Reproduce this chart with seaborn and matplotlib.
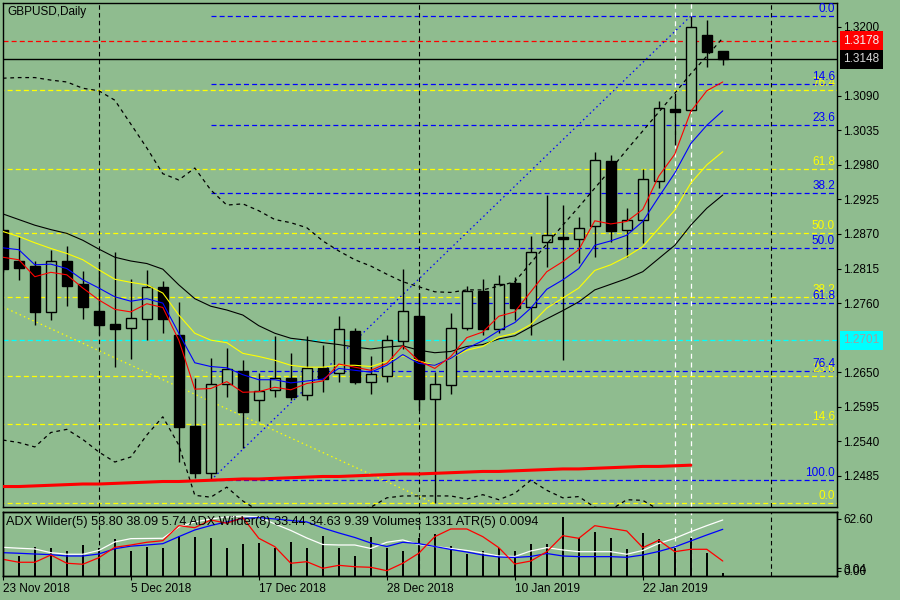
import numpy as np
import pandas as pd
import matplotlib
matplotlib.use('Agg')
import matplotlib.pyplot as plt
import matplotlib.transforms as mtransforms
import seaborn as sns

# --- 1. Values (GBPUSD daily, 23 Nov 2018 - 29 Jan 2019) ---
bars = list(range(46))

opens = [1.2877, 1.2827, 1.2819, 1.2746, 1.2827, 1.2790, 1.2747, 1.2727, 1.2720, 1.2734,
         1.2785, 1.2709, 1.2564, 1.2489, 1.2632, 1.2652, 1.2605, 1.2622, 1.2640, 1.2613,
         1.2656, 1.2648, 1.2716, 1.2634, 1.2644, 1.2700, 1.2739, 1.2608, 1.2630, 1.2721,
         1.2779, 1.2718, 1.2792, 1.2753, 1.2858, 1.2866, 1.2862, 1.2882, 1.2986, 1.2877,
         1.2893, 1.2955, 1.3069, 1.3067, 1.3187, 1.3161]
highs = [1.2878, 1.2866, 1.2827, 1.2845, 1.2851, 1.2811, 1.2825, 1.2841, 1.2798, 1.2813,
         1.2795, 1.2761, 1.2641, 1.2672, 1.2689, 1.2670, 1.2648, 1.2708, 1.2680, 1.2708,
         1.2693, 1.2739, 1.2720, 1.2675, 1.2709, 1.2815, 1.2776, 1.2651, 1.2745, 1.2787,
         1.2798, 1.2805, 1.2802, 1.2867, 1.2932, 1.2916, 1.2897, 1.3000, 1.2995, 1.2911,
         1.2973, 1.3081, 1.3094, 1.3217, 1.3211, 1.3162]
lows = [1.2810, 1.2796, 1.2725, 1.2733, 1.2755, 1.2735, 1.2709, 1.2659, 1.2671, 1.2701,
        1.2712, 1.2507, 1.2482, 1.2478, 1.2611, 1.2529, 1.2573, 1.2611, 1.2606, 1.2606,
        1.2619, 1.2635, 1.2632, 1.2615, 1.2635, 1.2687, 1.2590, 1.2441, 1.2615, 1.2717,
        1.2709, 1.2712, 1.2733, 1.2710, 1.2818, 1.2669, 1.2824, 1.2833, 1.2857, 1.2833,
        1.2856, 1.2943, 1.3011, 1.3066, 1.3136, 1.3139]
closes = [1.2814, 1.2816, 1.2746, 1.2827, 1.2787, 1.2754, 1.2725, 1.2718, 1.2736, 1.2785,
          1.2734, 1.2563, 1.2490, 1.2631, 1.2655, 1.2586, 1.2620, 1.2640, 1.2611, 1.2657,
          1.2639, 1.2718, 1.2635, 1.2647, 1.2701, 1.2747, 1.2608, 1.2632, 1.2721, 1.2779,
          1.2719, 1.2790, 1.2752, 1.2841, 1.2868, 1.2862, 1.2880, 1.2987, 1.2875, 1.2893,
          1.2957, 1.3070, 1.3065, 1.3199, 1.3160, 1.3148]

red_ma = [1.2833, 1.2829, 1.2802, 1.2809, 1.2805, 1.2784, 1.2765, 1.2750, 1.2746, 1.2759,
          1.2753, 1.2701, 1.2623, 1.2624, 1.2635, 1.2618, 1.2619, 1.2626, 1.2622, 1.2632,
          1.2636, 1.2663, 1.2658, 1.2653, 1.2664, 1.2692, 1.2668, 1.2656, 1.2675, 1.2705,
          1.2714, 1.2739, 1.2746, 1.2778, 1.2810, 1.2826, 1.2845, 1.2891, 1.2886, 1.2890,
          1.2909, 1.2962, 1.2997, 1.3065, 1.3098, 1.3112]
blue_ma = [1.2848, 1.2845, 1.2821, 1.2822, 1.2815, 1.2797, 1.2784, 1.2770, 1.2763, 1.2767,
           1.2760, 1.2712, 1.2665, 1.2659, 1.2657, 1.2646, 1.2638, 1.2638, 1.2633, 1.2636,
           1.2639, 1.2656, 1.2653, 1.2650, 1.2661, 1.2678, 1.2664, 1.2661, 1.2672, 1.2688,
           1.2700, 1.2716, 1.2729, 1.2752, 1.2782, 1.2797, 1.2815, 1.2852, 1.2859, 1.2868,
           1.2890, 1.2929, 1.2967, 1.3014, 1.3043, 1.3066]
yellow_ma = [1.2874, 1.2866, 1.2856, 1.2847, 1.2839, 1.2829, 1.2813, 1.2798, 1.2793, 1.2789,
             1.2776, 1.2741, 1.2712, 1.2701, 1.2697, 1.2680, 1.2675, 1.2669, 1.2661, 1.2658,
             1.2658, 1.2661, 1.2661, 1.2659, 1.2667, 1.2676, 1.2668, 1.2661, 1.2672, 1.2685,
             1.2691, 1.2706, 1.2712, 1.2726, 1.2752, 1.2768, 1.2784, 1.2812, 1.2821, 1.2834,
             1.2850, 1.2879, 1.2908, 1.2951, 1.2980, 1.3001]
black_ma = [1.2902, 1.2893, 1.2884, 1.2877, 1.2871, 1.2860, 1.2846, 1.2833, 1.2827, 1.2823,
            1.2814, 1.2789, 1.2767, 1.2755, 1.2749, 1.2741, 1.2724, 1.2712, 1.2704, 1.2701,
            1.2697, 1.2694, 1.2690, 1.2687, 1.2690, 1.2692, 1.2685, 1.2681, 1.2683, 1.2691,
            1.2694, 1.2703, 1.2708, 1.2722, 1.2735, 1.2748, 1.2762, 1.2781, 1.2790, 1.2799,
            1.2810, 1.2831, 1.2852, 1.2884, 1.2911, 1.2932]
bb_upper = [1.3118, 1.3119, 1.3119, 1.3115, 1.3112, 1.3102, 1.3098, 1.3083, 1.3045, 1.3007,
            1.2966, 1.2956, 1.2975, 1.2940, 1.2916, 1.2918, 1.2907, 1.2893, 1.2888, 1.2880,
            1.2859, 1.2843, 1.2829, 1.2819, 1.2806, 1.2794, 1.2786, 1.2778, 1.2777, 1.2781,
            1.2781, 1.2787, 1.2794, 1.2824, 1.2854, 1.2884, 1.2913, 1.2943, 1.2973, 1.3004,
            1.3034, 1.3064, 1.3094, 1.3125, 1.3153, 1.3182]
bb_lower = [1.2542, 1.2538, 1.2531, 1.2554, 1.2559, 1.2543, 1.2523, 1.2507, 1.2515, 1.2550,
            1.2579, 1.2534, 1.2454, 1.2451, 1.2467, 1.2445, 1.2429, 1.2423, 1.2418, 1.2418,
            1.2423, 1.2427, 1.2433, 1.2435, 1.2450, 1.2453, 1.2453, 1.2453, 1.2453, 1.2448,
            1.2455, 1.2447, 1.2457, 1.2478, 1.2462, 1.2450, 1.2452, 1.2435, 1.2431, 1.2447,
            1.2446, 1.2431, 1.2423, 1.2415, 1.2407, 1.2399]
# long average (thick red), drawn up to bar 43
slow_ma = [1.2468, 1.2468, 1.2469, 1.2470, 1.2471, 1.2472, 1.2472, 1.2473, 1.2474, 1.2475,
           1.2476, 1.2476, 1.2477, 1.2478, 1.2479, 1.2480, 1.2480, 1.2481, 1.2482, 1.2483,
           1.2484, 1.2484, 1.2485, 1.2486, 1.2487, 1.2488, 1.2488, 1.2489, 1.2490, 1.2491,
           1.2492, 1.2492, 1.2493, 1.2494, 1.2495, 1.2496, 1.2496, 1.2497, 1.2498, 1.2499,
           1.2500, 1.2500, 1.2501, 1.2502]

# fibonacci retracements
blue_fib_labels = ['0.0', '14.6', '23.6', '38.2', '50.0', '61.8', '76.4', '100.0']
blue_fib_prices = [1.3217, 1.3108, 1.3043, 1.2935, 1.2848, 1.2760, 1.2652, 1.2478]
yellow_fib_labels = ['0.0', '14.6', '23.6', '38.2', '50.0', '61.8', '76.4']
yellow_fib_prices = [1.2441, 1.2567, 1.2644, 1.2769, 1.2871, 1.2973, 1.3099]
blue_trend_bars = [13, 43]
blue_trend_prices = [1.2478, 1.3217]
yellow_trend_bars = [0, 27]
yellow_trend_prices = [1.2754, 1.2441]

ask_price = 1.3178
bid_price = 1.3148
cyan_price = 1.2701

price_ticks = [1.3200, 1.3090, 1.3035, 1.2980, 1.2925, 1.2870, 1.2815, 1.2760,
               1.2650, 1.2595, 1.2540, 1.2485]
date_ticks = [0, 8, 16, 24, 32, 40]
date_labels = ['23 Nov 2018', '5 Dec 2018', '17 Dec 2018', '28 Dec 2018', '10 Jan 2019', '22 Jan 2019']
month_bars = [6, 26, 48]
marker_bars = [42, 43]

# lower window: ADX lines and volumes
adx_white = [28.3, 27.2, 26.3, 21.8, 19.9, 19.9, 24.5, 34.8, 38.8, 39.0,
             39.2, 52.9, 59.0, 62.6, 65.0, 66.2, 65.0, 56.6, 48.7, 39.6,
             31.7, 31.1, 31.1, 26.9, 34.4, 37.2, 31.7, 29.3, 26.9, 24.5,
             21.4, 17.8, 17.2, 23.9, 27.9, 25.1, 23.0, 23.0, 23.0, 19.9,
             24.5, 32.9, 39.2, 47.2, 54.5, 61.4]
adx_blue = [21.8, 21.1, 20.2, 19.4, 17.8, 17.8, 20.2, 26.6, 29.7, 31.1,
            32.7, 41.2, 49.3, 54.7, 59.0, 63.2, 64.2, 62.6, 60.8, 59.0,
            51.7, 45.7, 40.2, 33.5, 29.3, 34.4, 32.7, 29.3, 25.7, 22.6,
            19.0, 16.6, 16.0, 17.2, 20.8, 17.8, 17.0, 17.0, 17.0, 16.2,
            19.0, 23.3, 28.7, 36.0, 43.2, 50.1]
adx_red = [13.8, 10.2, 10.2, 19.0, 9.0, 7.8, 15.7, 28.3, 31.1, 34.4,
           36.3, 54.5, 52.1, 61.4, 57.4, 64.2, 39.2, 29.1, 9.0, 10.9,
           2.9, 6.5, 4.8, 4.1, 0.0, 9.0, 21.1, 41.2, 50.5, 50.5,
           41.2, 27.9, 8.1, 11.7, 23.0, 42.4, 39.2, 54.5, 51.3, 48.1,
           27.9, 36.8, 23.0, 25.9, 25.9, 11.7]
volumes = [11000, 8860, 12580, 12400, 10940, 13600, 12400, 16260, 10940, 12850,
           12140, 17720, 17010, 16830, 12400, 13910, 14620, 12400, 15060, 12400,
           17590, 12140, 8860, 17010, 12400, 10940, 16570, 18340, 13160, 9480,
           11080, 12400, 10940, 14040, 13910, 26140, 16570, 19490, 16570, 11700,
           18780, 16260, 12400, 16830, 10190, 1331]
sub_ticks = [62.60, 3.04, 0.00]
sub_tick_labels = ['62.60', '3.04', '0.00']
info_text = 'ADX Wilder(5) 53.80 38.09 5.74 ADX Wilder(8) 33.44 34.63 9.39 Volumes 1331 ATR(5) 0.0094'

df = pd.DataFrame({'bar': bars, 'open': opens, 'high': highs, 'low': lows, 'close': closes,
                   'red': red_ma, 'blue': blue_ma, 'yellow': yellow_ma, 'black': black_ma,
                   'bb_up': bb_upper, 'bb_lo': bb_lower,
                   'adx_w': adx_white, 'adx_b': adx_blue, 'adx_r': adx_red, 'vol': volumes})

# --- 2. Style ---
bg = '#8fbc8f'
sns.set_style('ticks', rc={'axes.facecolor': bg, 'figure.facecolor': bg,
                           'axes.edgecolor': 'black', 'xtick.color': 'black', 'ytick.color': 'black'})
plt.rcParams['font.family'] = ['Liberation Sans', 'DejaVu Sans']
plt.rcParams['font.size'] = 8.5

fig = plt.figure(figsize=(9, 6), dpi=100)
ax = fig.add_axes([2.5 / 900, 1 - 507 / 600, 834.5 / 900, 504.3 / 600])
axv = fig.add_axes([2.5 / 900, 1 - 575.7 / 600, 834.5 / 900, 64 / 600])
axi = axv.twinx()

xlim = (-0.02, 52.14)
dash = (0, (4, 3))
fib_dash = (0, (4, 2.5))

# --- 3. Main price window ---
ax.set_xlim(*xlim)
ax.set_ylim(1.24354, 1.32382)

ax.hlines(yellow_fib_prices, -1, 60, colors='#ffff00', linestyles=[fib_dash], lw=0.9, zorder=1)
ax.hlines(blue_fib_prices, blue_trend_bars[0], 60, colors='#0000ff', linestyles=[fib_dash], lw=0.9, zorder=1)
ax.axhline(ask_price, color='#ff0000', ls=fib_dash, lw=0.9, zorder=1)
ax.axhline(cyan_price, color='#00ffff', ls=fib_dash, lw=0.9, zorder=1)
ax.axhline(bid_price, color='black', lw=1.0, zorder=1)
for b in month_bars:
    ax.axvline(b, color='black', ls=dash, lw=0.8, zorder=1)
for b in marker_bars:
    ax.axvline(b, color='white', ls=dash, lw=0.9, zorder=1)

ax.plot(blue_trend_bars, blue_trend_prices, color='#0000ff', ls=(0, (1.2, 2.5)), lw=0.9, zorder=2)
ax.plot(yellow_trend_bars, yellow_trend_prices, color='#ffff00', ls=(0, (1.2, 2.5)), lw=0.9, zorder=2)

# candles
up = df['close'] >= df['open']
ax.vlines(df['bar'], df['low'], df['high'], color='black', lw=1.0, zorder=3)
body_lo = np.minimum(df['open'], df['close'])
body_h = np.abs(df['close'] - df['open'])
ax.bar(df['bar'], body_h, bottom=body_lo, width=0.62,
       color=np.where(up, bg, 'black'), edgecolor='black', linewidth=1.0, zorder=4)

# indicator lines
sns.lineplot(data=df, x='bar', y='bb_up', ax=ax, color='black', lw=0.9, linestyle=(0, (3, 3)), zorder=5)
sns.lineplot(data=df, x='bar', y='bb_lo', ax=ax, color='black', lw=0.9, linestyle=(0, (3, 3)), zorder=5)
sns.lineplot(data=df, x='bar', y='black', ax=ax, color='black', lw=0.8, zorder=5)
sns.lineplot(data=df, x='bar', y='yellow', ax=ax, color='#ffff00', lw=0.8, zorder=5)
sns.lineplot(data=df, x='bar', y='blue', ax=ax, color='#0000ff', lw=0.8, zorder=5)
sns.lineplot(data=df, x='bar', y='red', ax=ax, color='#ff0000', lw=0.8, zorder=5)
sns.lineplot(x=bars[:len(slow_ma)], y=slow_ma, ax=ax, color='#ff0000', lw=2.2, zorder=5)

# fib labels at the right edge
trans = mtransforms.blended_transform_factory(ax.transAxes, ax.transData)
for lbl, p in zip(yellow_fib_labels, yellow_fib_prices):
    ax.annotate(lbl, xy=(1, p), xycoords=trans, xytext=(-2, 1), textcoords='offset pixels',
                ha='right', va='bottom', color='#ffff00', fontsize=8.5, zorder=6)
for lbl, p in zip(blue_fib_labels, blue_fib_prices):
    ax.annotate(lbl, xy=(1, p), xycoords=trans, xytext=(-2, 1), textcoords='offset pixels',
                ha='right', va='bottom', color='#0000ff', fontsize=8.5, zorder=6)

ax.text(0.0058, 0.982, 'GBPUSD,Daily', transform=ax.transAxes, ha='left', va='center',
        fontsize=8.5, color='black')

ax.yaxis.tick_right()
ax.set_yticks(price_ticks)
ax.set_yticklabels([f'{p:.4f}' for p in price_ticks])
ax.tick_params(axis='y', direction='out', length=3, width=0.8, pad=1.5, labelsize=8.5)
ax.tick_params(axis='x', bottom=False, labelbottom=False)
ax.set_xlabel('')
ax.set_ylabel('')

# price boxes on the scale
for p, fc, tc in [(ask_price, '#ff0000', '#f4f4f4'), (bid_price, 'black', '#d8d8d8'),
                  (cyan_price, '#00ffff', '#a0a0a0')]:
    ax.text(1.0078, p, f'{p:.4f}', transform=trans, ha='left', va='center', color=tc,
            fontsize=8.5, clip_on=False, zorder=10,
            bbox=dict(boxstyle='square,pad=0.3', fc=fc, ec='none'))

for s in ax.spines.values():
    s.set_linewidth(1.0)
    s.set_color('black')

# --- 4. Lower window: volumes + ADX ---
axv.set_xlim(*xlim)
axv.set_ylim(0, 28350)
axv.vlines(df['bar'], 0, df['vol'], color='black', lw=1.4, zorder=2)
for b in month_bars:
    axv.axvline(b, color='black', ls=dash, lw=0.8, zorder=1)
for b in marker_bars:
    axv.axvline(b, color='white', ls=dash, lw=0.9, zorder=1)
axv.set_yticks([])
axv.set_xticks(date_ticks)
axv.set_xticklabels(date_labels, ha='left')
axv.tick_params(axis='x', direction='out', length=3, width=0.8, pad=2, labelsize=8.5)
axv.set_xlabel('')
axv.set_ylabel('')

axi.set_ylim(-6.06, 71.4)
sns.lineplot(data=df, x='bar', y='adx_w', ax=axi, color='white', lw=0.9)
sns.lineplot(data=df, x='bar', y='adx_b', ax=axi, color='#0000ff', lw=0.9)
sns.lineplot(data=df, x='bar', y='adx_r', ax=axi, color='#ff0000', lw=0.9)
axi.set_xlim(*xlim)
axi.set_yticks(sub_ticks)
axi.set_yticklabels(sub_tick_labels)
axi.tick_params(axis='y', direction='out', length=3, width=0.8, pad=1.5, labelsize=8.5)
axi.set_xlabel('')
axi.set_ylabel('')
axi.text(0.0036, 0.845, info_text, transform=axi.transAxes, ha='left', va='center',
         fontsize=9.2, color='black')

for a in (axv, axi):
    for s in a.spines.values():
        s.set_linewidth(1.0)
        s.set_color('black')

fig.savefig('out.png', dpi=100, facecolor=bg)
